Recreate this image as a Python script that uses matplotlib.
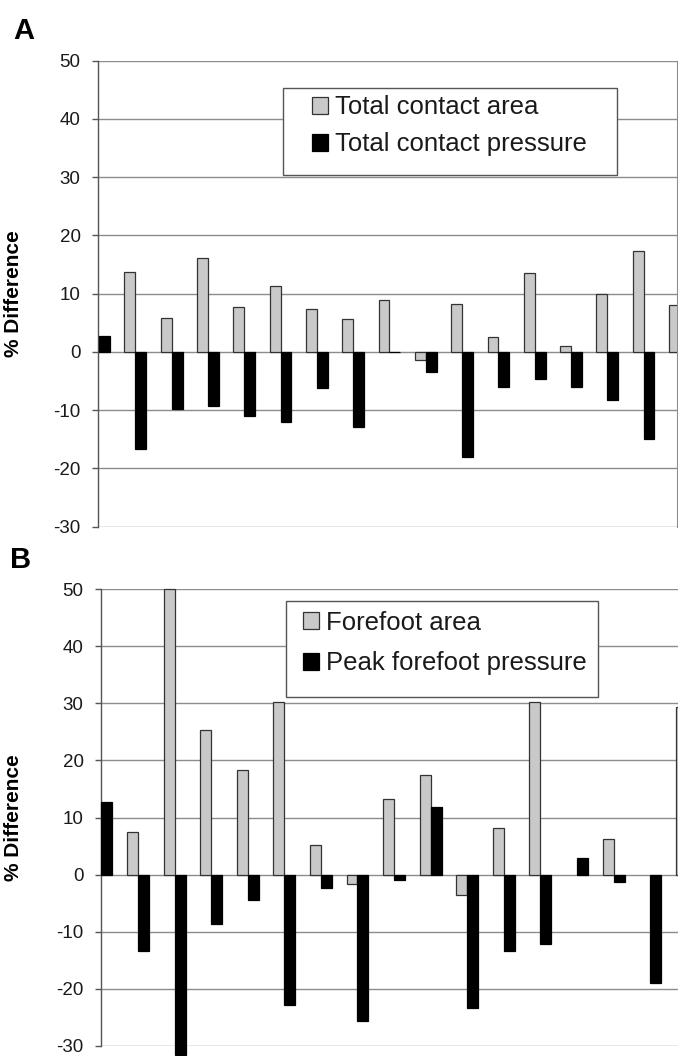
"""
plot.py

Figure with two panels (A, B): % difference per subject for contact area /
pressure (total and forefoot).
"""

import numpy as np
import matplotlib
matplotlib.use('Agg')
import matplotlib.pyplot as plt
from matplotlib.patches import Rectangle

matplotlib.rcParams['font.family'] = ['Liberation Sans', 'DejaVu Sans']
matplotlib.rcParams['text.color'] = '#1a1a1a'
matplotlib.rcParams['axes.unicode_minus'] = False

W, H = 678, 1056
nan = np.nan

# Panel A - total contact
total_area = [nan, 13.7, 5.9, 16.2, 7.7, 11.3, 7.4, 5.6, 9.0, -1.4, 8.3, 2.6, 13.5, 1.1, 10.0, 17.3, 8.0]
total_pressure = [2.8, -16.6, -9.8, -9.3, -11.0, -12.0, -6.2, -12.9, 0.0, -3.5, -18.0, -6.0, -4.6, -6.0, -8.3, -14.9, nan]

# Panel B - forefoot
forefoot_area = [nan, 7.5, 50.0, 25.4, 18.3, 30.3, 5.1, -1.6, 13.3, 17.4, -3.5, 8.1, 30.2, nan, 6.3, nan, 29.3]
forefoot_pressure = [12.7, -13.3, -31.5, -8.7, -4.4, -22.9, -2.4, -25.7, -1.0, 11.9, -23.3, -13.3, -12.2, 2.9, -1.3, -18.9, nan]

yticks = [-30, -20, -10, 0, 10, 20, 30, 40, 50]

LIGHT = '#c9c9c9'
GRID = '#8c8c8c'
BAR_W = 0.30


def px_axes(fig, left, right, top, bottom):
    """axes rect from pixel coords (origin top-left)"""
    return fig.add_axes([left / W, 1 - bottom / H, (right - left) / W, (bottom - top) / H])


def draw_panel(fig, rect, xlim, light, dark, labels, legend_box, legend_anchor,
               labelspacing, letter, letter_xy, right_line=True, clip=True):
    ax = px_axes(fig, *rect)
    x = np.arange(len(light))

    b1 = ax.bar(x - BAR_W / 2, light, BAR_W, color=LIGHT, edgecolor='#333333',
                linewidth=0.9, zorder=3, clip_on=clip)
    b2 = ax.bar(x + BAR_W / 2, dark, BAR_W, color='black', edgecolor='black',
                linewidth=0.9, zorder=3, clip_on=clip)

    ax.set_xlim(*xlim)
    ax.set_ylim(-30, 50)
    ax.set_yticks(yticks)
    ax.set_xticks([])
    ax.yaxis.grid(True, color=GRID, linewidth=1.0)
    ax.set_axisbelow(True)

    for s in ['top', 'bottom']:
        ax.spines[s].set_visible(False)
    ax.spines['left'].set_color('#555555')
    ax.spines['left'].set_linewidth(1.0)
    ax.spines['right'].set_visible(right_line)
    ax.spines['right'].set_color(GRID)

    ax.tick_params(axis='y', direction='out', length=4.5, width=1.0,
                   color='#555555', pad=8, labelsize=13.5, labelcolor='#1a1a1a')

    ax.set_ylabel('% Difference', fontsize=15, fontweight='bold')
    ax.yaxis.set_label_coords(23 / W, 1 - (rect[2] + rect[3]) / 2 / H,
                              transform=fig.transFigure)

    # legend box (white, covers grid lines)
    x0, y0, x1, y1 = legend_box
    fig.add_artist(Rectangle((x0 / W, 1 - y1 / H), (x1 - x0) / W, (y1 - y0) / H,
                             transform=fig.transFigure, facecolor='white',
                             edgecolor='#555555', linewidth=1.0, zorder=4))
    fig.legend([b1, b2], labels, loc='upper left',
               bbox_to_anchor=(legend_anchor[0] / W, 1 - legend_anchor[1] / H),
               bbox_transform=fig.transFigure, frameon=False, borderpad=0,
               borderaxespad=0, fontsize=18.5, handlelength=0.62,
               handleheight=0.62, handletextpad=0.28, labelspacing=labelspacing)

    fig.text(letter_xy[0] / W, 1 - letter_xy[1] / H, letter, fontsize=21,
             fontweight='bold', ha='center', va='center', color='black')
    return ax


def main():
    fig = plt.figure(figsize=(W / 100, H / 100), dpi=100)

    draw_panel(fig, (98, 677, 60.7, 526.7), (-0.03, 15.92),
               total_area, total_pressure,
               ['Total contact area', 'Total contact pressure'],
               (283, 88, 617, 175), (312, 95.5), 0.5, 'A', (24, 31))

    draw_panel(fig, (101, 678, 589, 1046), (-0.01, 15.76),
               forefoot_area, forefoot_pressure,
               ['Forefoot area', 'Peak forefoot pressure'],
               (286, 601, 598, 697), (303, 610.5), 0.66, 'B', (21, 560),
               right_line=False, clip=False)

    fig.savefig('out.png', dpi=100)
    plt.close(fig)


if __name__ == '__main__':
    main()
